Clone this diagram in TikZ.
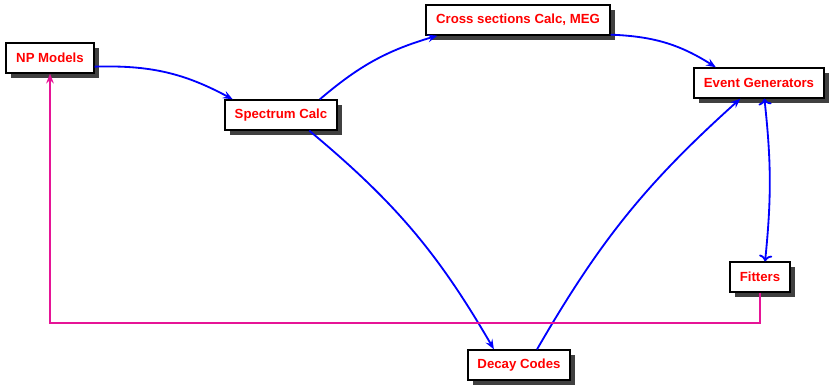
\documentclass[tikz,border=0pt]{standalone}
\usepackage{fontspec}
\setsansfont{Liberation Sans}
\usepackage{xcolor}
\usepackage{tikz}
\usetikzlibrary{arrows.meta,shadows}

\definecolor{loopc}{RGB}{230,20,150}

\begin{document}
\begin{tikzpicture}[
    x=0.025cm, y=-0.025cm,
    box/.style={draw, line width=1.3pt, fill=white, minimum height=21pt, inner xsep=7pt,
                text=red, font=\sffamily\bfseries\fontsize{9.4}{11}\selectfont,
                drop shadow={shadow xshift=3.5pt, shadow yshift=-3.5pt, opacity=1, fill=black!75}},
    line/.style={-{Stealth[length=7pt,width=5.5pt,inset=2.5pt]}, blue, line width=1.3pt},
    back/.style={-{Stealth[length=7pt,width=5.5pt,inset=2.5pt]}, loopc, line width=1.2pt}
]
\useasboundingbox (0,0) rectangle (830,385);

\node[box] (np)    at (50,58)   {NP Models};
\node[box] (spec)  at (281,115) {Spectrum Calc};
\node[box] (cross) at (518,20)  {Cross sections Calc, MEG};
\node[box] (event) at (759,83)  {Event Generators};
\node[box] (fit)   at (760,277) {Fitters};
\node[box] (decay) at (519,365) {Decay Codes};

\draw[line] (np.-11)        to[bend left=15] (spec.162);
\draw[line] (spec.22)       to[bend left=12] (cross.191);
\draw[line] (cross.-9)      to[bend left=15] (event.160);
\draw[line] (spec.-29)      to[bend left=10] (decay.148);
\draw[line] (decay.41)      to[bend left=9]  (event.220);
\draw[line,<->] (event.-71) to[bend left=6]  (fit.72);

% feedback from the fitters to the models
\coordinate (fb) at (0,323);
\draw[back] (fit.south) -- (fit.south |- fb) -| (np.south);
\end{tikzpicture}
\end{document}
